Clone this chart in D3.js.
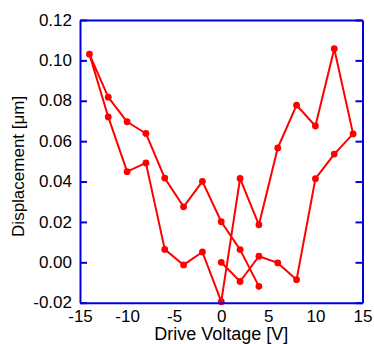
<!DOCTYPE html>
<html>
<head>
<meta charset="utf-8">
<script src="https://cdn.jsdelivr.net/npm/d3@7"></script>
<style>
  html, body { margin: 0; padding: 0; background: #fff; }
  svg { display: block; font-family: "Liberation Sans", Arial, sans-serif; }
</style>
</head>
<body>
<svg id="chart" width="374" height="344"></svg>
<script>
// Sweep order of the hysteresis loop
const voltage = [0, 2, 4, 6, 8, 10, 12, 14, 12, 10, 8, 6, 4, 2, 0, -2, -4, -6, -8, -10, -12, -14, -12, -10, -8, -6, -4, -2, 0, 2, 4];
const displacement = [0.000, -0.0095, 0.003, -0.0003, -0.0086, 0.0414, 0.0536, 0.0636, 0.1058, 0.0675, 0.0778, 0.0566, 0.0186, 0.0415, -0.0195,
  0.0051, -0.0013, 0.0064, 0.0492, 0.0449, 0.0720, 0.1031, 0.0818, 0.0696, 0.0638, 0.0417, 0.0275, 0.0401, 0.0201, 0.0063, -0.0119];
const xTicks = [-15, -10, -5, 0, 5, 10, 15];
const yTicks = [-0.02, 0.00, 0.02, 0.04, 0.06, 0.08, 0.10, 0.12];
const xTitle = "Drive Voltage [V]";
const yTitle = "Displacement [\u03bcm]";

const data = voltage.map((v, i) => ({ x: v, y: displacement[i] }));

const svg = d3.select("#chart");
const L = 80, R = 362.5, T = 20, B = 302.7;
const x = d3.scaleLinear().domain([-15, 15]).range([L, R]);
const y = d3.scaleLinear().domain([-0.02, 0.12]).range([B, T]);
const blue = "#0000e0", red = "#ff0000";

// Data line
svg.append("path")
  .datum(data)
  .attr("fill", "none")
  .attr("stroke", red)
  .attr("stroke-width", 2)
  .attr("stroke-linejoin", "round")
  .attr("d", d3.line().x(d => x(d.x)).y(d => y(d.y)));

svg.append("g").selectAll("circle")
  .data(data)
  .join("circle")
  .attr("cx", d => x(d.x))
  .attr("cy", d => y(d.y))
  .attr("r", 3.4)
  .attr("fill", red);

// Left axis
const gl = svg.append("g").attr("transform", `translate(${L},0)`)
  .call(d3.axisLeft(y).tickValues(yTicks).tickSizeInner(-7).tickSizeOuter(0).tickPadding(8));
// Right axis
const gr = svg.append("g").attr("transform", `translate(${R},0)`)
  .call(d3.axisRight(y).tickValues(yTicks).tickFormat("").tickSizeInner(-7).tickSizeOuter(0));
// Bottom axis
const gb = svg.append("g").attr("transform", `translate(0,${B})`)
  .call(d3.axisBottom(x).tickValues(xTicks).tickSize(0).tickPadding(7));
// Top line
const gt = svg.append("g").attr("transform", `translate(0,${T})`)
  .call(d3.axisTop(x).tickValues([]).tickSize(0));

[gl, gr, gb, gt].forEach(g => {
  g.selectAll(".domain").attr("stroke", blue).attr("stroke-width", 2);
  g.selectAll(".tick line").attr("stroke", blue).attr("stroke-width", 2);
  g.selectAll("text").attr("fill", "#000").attr("font-size", 17)
    .attr("font-family", "'Liberation Sans', Arial, sans-serif");
});
gl.selectAll("text").attr("dy", "0.3em")
  .text(d => (d < 0 ? "-" : "") + Math.abs(d).toFixed(2));
gb.selectAll("text").text(d => d < 0 ? "-" + Math.abs(d) : d);

// Titles
svg.append("text")
  .attr("x", (L + R) / 2).attr("y", 340)
  .attr("text-anchor", "middle")
  .attr("font-size", 18)
  .text(xTitle);

svg.append("text")
  .attr("transform", `translate(24,${(T + B) / 2 + 5}) rotate(-90)`)
  .attr("text-anchor", "middle")
  .attr("font-size", 17)
  .text(yTitle);
</script>
</body>
</html>
